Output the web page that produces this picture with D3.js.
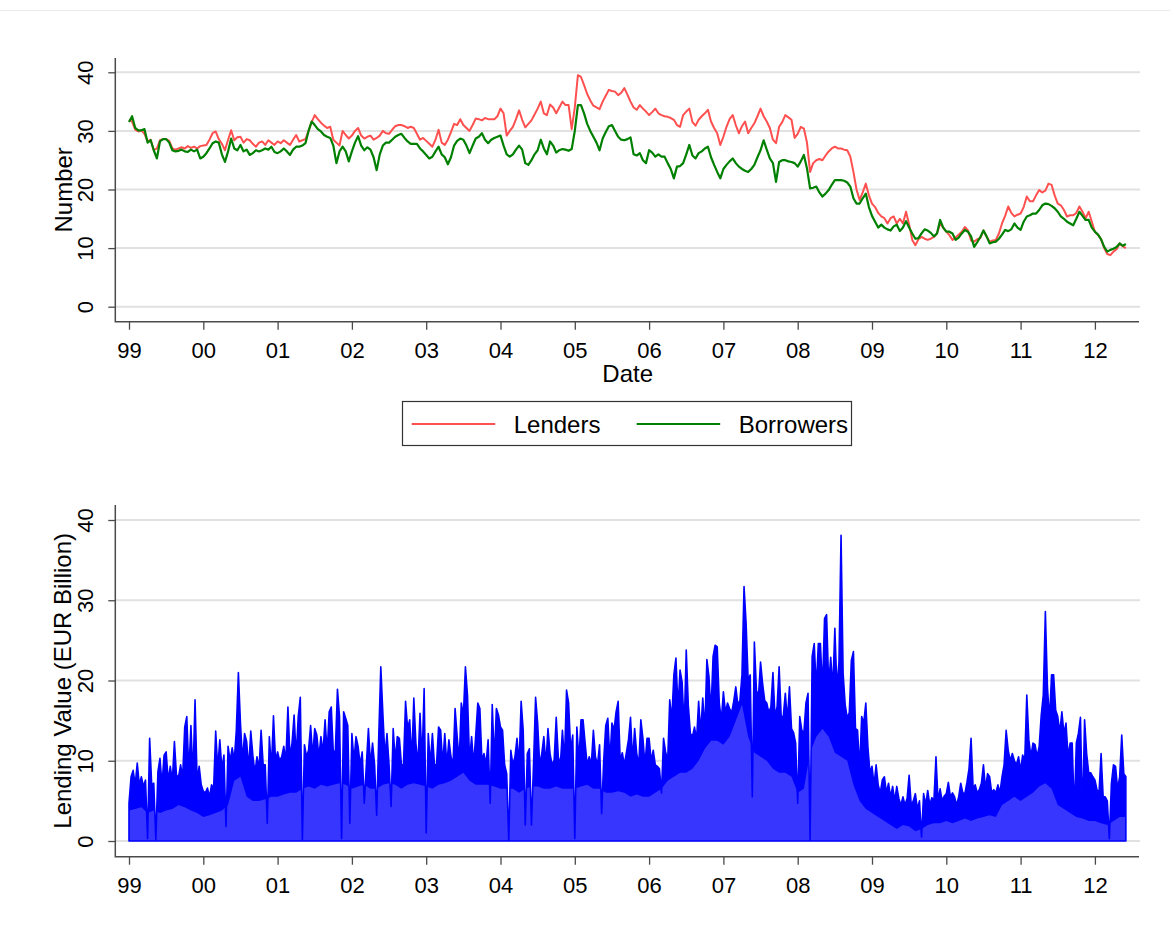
<!DOCTYPE html>
<html>
<head>
<meta charset="utf-8">
<script src="https://cdn.jsdelivr.net/npm/d3@7"></script>
<style>
  body { margin: 0; background: #fff; }
  svg { display: block; font-family: "Liberation Sans", Arial, sans-serif; }
</style>
</head>
<body>
<div id="chart"></div>
<script>
const width = 1170
const height = 941

const years = [1999, 2000, 2001, 2002, 2003, 2004, 2005, 2006, 2007, 2008, 2009, 2010, 2011, 2012]
const yTicks = [0, 10, 20, 30, 40]

// number of lenders / borrowers, two readings per month
const lenders1999 = [31.9,31.6,30.2,29.9,30.1,29.5,28.2,28.5,26.7,27.0,28.4,28.6,28.6,28.3,27.0,26.8,27.0,27.2,27.0,27.4,27.1,27.3,27.0,27.4]
const lenders2000 = [27.5,27.6,28.5,29.6,29.9,28.6,27.8,26.7,28.5,30.1,28.4,28.9,29.0,28.0,28.6,28.4,27.8,27.3,28.0,28.2,27.6,28.4,28.0,27.6]
const lenders2001 = [28.2,27.9,28.4,28.0,27.6,28.5,29.3,28.2,28.4,28.6,30.0,31.5,32.7,32.0,31.4,30.9,30.5,30.7,28.5,28.0,27.5,30.0,29.3,28.7]
const lenders2002 = [29.2,30.0,30.5,29.2,28.7,29.0,29.2,28.5,28.8,29.2,30.0,29.6,29.5,30.2,30.8,31.0,31.0,30.8,30.5,30.7,30.5,29.5,28.5,28.8]
const lenders2003 = [28.3,27.8,27.3,28.5,30.2,28.0,27.6,28.5,29.8,31.2,31.0,32.0,31.0,30.5,30.0,31.0,32.1,32.0,31.8,32.2,32.0,32.0,32.0,32.5]
const lenders2004 = [33.8,33.0,29.2,30.0,30.7,32.0,33.5,31.9,30.6,31.2,31.8,32.8,33.8,35.0,33.0,32.7,34.5,34.0,33.0,34.0,35.0,34.4,34.4,30.3]
const lenders2005 = [34.0,39.5,39.2,37.8,36.3,35.2,34.3,34.0,33.7,35.0,36.0,37.0,36.8,36.7,36.1,36.5,37.3,36.2,35.0,34.0,33.6,34.4,33.8,33.3]
const lenders2006 = [32.7,33.2,33.8,33.0,32.7,32.5,32.4,32.2,31.9,31.0,30.7,32.7,33.3,33.8,31.5,30.9,31.9,32.5,33.0,33.6,31.6,30.5,29.6,27.6]
const lenders2007 = [29.0,30.7,32.0,32.7,31.0,29.6,30.8,31.6,29.6,30.5,31.3,32.5,33.8,32.5,31.6,30.5,28.5,27.9,30.7,31.5,32.7,32.3,31.9,28.8]
const lenders2008 = [29.5,30.7,30.4,28.0,23.0,24.5,25.0,25.2,25.0,25.8,26.5,27.0,27.3,27.0,27.0,26.8,26.7,25.6,23.0,20.0,18.2,19.5,21.0,19.0]
const lenders2009 = [17.6,17.0,16.0,15.4,15.1,14.2,15.1,15.4,14.2,15.0,14.2,16.2,14.0,11.4,10.5,11.5,11.9,11.6,11.4,11.6,11.9,12.5,14.2,13.5]
const lenders2010 = [12.8,12.2,11.4,11.8,12.3,12.8,13.6,13.0,11.3,11.1,11.5,11.7,13.0,12.0,11.1,11.3,11.4,12.5,14.2,15.5,17.1,16.0,15.4,15.7]
const lenders2011 = [15.9,17.0,18.8,18.0,18.0,19.0,19.9,19.5,19.8,21.0,20.8,19.0,17.6,17.3,16.5,15.4,15.6,15.6,16.0,17.1,16.2,15.1,16.2,14.5]
const lenders2012 = [12.8,12.3,11.5,10.0,9.0,8.8,9.4,9.8,10.8,10.3,10.0]

const borrowers1999 = [31.5,32.5,30.5,30.1,30.1,30.3,28.0,28.4,26.7,25.3,28.2,28.6,28.6,28.0,26.7,26.5,26.6,26.8,26.5,26.4,26.8,26.5,26.8,25.3]
const borrowers2000 = [25.6,26.2,27.0,27.9,28.2,28.0,26.0,24.7,26.5,28.7,27.0,26.7,27.6,26.5,26.8,25.9,26.2,26.7,26.5,26.7,27.0,26.8,27.3,26.4]
const borrowers2001 = [26.2,26.5,27.0,26.5,25.9,26.8,27.3,27.3,27.5,27.9,30.0,31.6,31.0,30.3,29.9,29.3,29.0,28.8,27.5,24.5,26.5,27.3,26.5,24.8]
const borrowers2002 = [26.5,28.0,29.1,27.5,26.7,27.2,26.8,25.5,23.3,26.0,27.5,28.0,28.0,28.5,29.0,29.3,29.5,28.8,28.2,27.8,27.8,27.8,27.0,26.5]
const borrowers2003 = [25.9,25.3,25.6,26.5,27.3,26.0,25.5,24.3,25.5,27.5,28.3,28.7,28.5,27.5,26.2,27.5,28.7,29.0,29.6,28.5,27.9,28.5,28.8,29.0]
const borrowers2004 = [29.2,27.5,26.0,25.6,26.0,26.8,27.5,26.8,24.5,24.2,25.0,26.0,26.7,28.5,27.0,26.0,28.2,27.5,26.3,26.7,26.9,26.8,26.6,26.9]
const borrowers2005 = [30.0,34.4,34.4,33.0,31.2,30.0,29.0,28.0,26.7,28.7,29.8,30.8,31.0,30.0,29.0,28.5,28.4,28.6,28.9,26.0,25.8,26.2,25.0,24.5]
const borrowers2006 = [26.7,26.3,25.6,26.0,25.6,25.6,24.5,23.5,21.9,23.9,24.0,24.5,26.0,27.6,25.8,25.3,26.2,26.5,27.0,27.3,25.5,24.2,23.0,21.9]
const borrowers2007 = [23.5,24.2,24.8,25.3,24.5,23.9,23.5,23.2,23.0,23.5,24.2,25.5,26.7,28.4,26.8,25.3,24.5,21.3,24.7,25.0,25.0,24.8,24.7,24.5]
const borrowers2008 = [23.9,24.8,25.9,23.6,20.2,20.3,20.5,19.5,18.8,19.3,19.9,20.8,21.6,21.6,21.6,21.5,21.2,20.5,18.5,17.6,17.6,18.5,19.3,17.0]
const borrowers2009 = [15.5,14.5,13.5,14.0,13.5,13.2,13.0,13.7,14.0,12.9,13.5,14.6,13.5,12.5,11.6,11.7,12.5,13.2,13.0,12.6,12.0,12.5,14.8,13.5]
const borrowers2010 = [12.8,12.8,12.5,11.4,11.8,12.5,13.1,12.8,12.0,10.2,11.0,11.9,13.0,12.0,10.8,11.0,11.1,11.6,12.3,13.1,12.9,13.2,14.2,13.5]
const borrowers2011 = [13.1,14.5,15.4,15.6,15.9,15.9,16.5,17.3,17.6,17.5,17.2,16.8,16.2,15.4,15.0,14.5,14.2,13.9,15.0,16.2,15.5,14.8,14.8,13.5]
const borrowers2012 = [12.8,12.3,11.5,10.2,9.4,9.7,9.9,10.2,10.8,10.4,10.7]

// lending value (EUR billion), three readings per month
const lend1999 = [4.7,8.0,8.8,7.0,9.7,7.0,8.0,6.8,7.6,0.3,12.8,7.0,7.2,0.2,8.6,10.3,7.0,10.7,11.1,7.5,9.3,7.5,12.4,8.2,8.0,9.5,8.0,14.2,15.5,8.5,14.4,8.0,17.6,7.6,9.3,7.0]
const lend2000 = [6.2,6.0,6.6,5.5,7.0,6.5,13.7,9.0,12.6,9.0,10.7,1.8,11.8,10.0,11.6,10.0,13.8,21.0,14.7,10.0,13.4,12.4,9.0,13.7,10.7,8.5,10.5,9.0,13.8,9.5,9.5,2.2,13.0,9.0,15.6,10.0]
const lend2001 = [11.1,10.0,10.5,11.8,10.0,16.7,10.5,12.2,15.7,10.5,15.5,17.9,0.2,12.0,10.5,11.3,14.4,10.5,14.0,13.2,10.5,13.0,11.0,15.1,11.0,16.1,16.7,11.0,11.3,18.9,15.5,0.3,16.1,15.3,14.4,2.2]
const lend2002 = [13.4,10.0,13.0,11.8,9.5,11.1,4.7,9.5,14.0,9.5,12.2,9.5,3.2,13.0,21.7,15.9,10.5,13.4,9.5,4.3,14.0,10.0,13.0,12.8,9.5,9.5,17.4,14.0,15.1,10.0,17.8,12.2,9.5,15.9,10.0,19.0]
const lend2003 = [1.0,13.4,9.5,13.4,9.5,9.5,14.2,13.8,9.5,13.4,9.5,12.6,10.5,9.5,16.5,13.0,10.0,17.2,15.5,21.7,18.2,10.0,13.0,9.5,13.2,17.2,16.5,10.0,10.9,9.5,12.6,4.7,17.0,10.0,16.5,15.7]
const lend2004 = [14.2,13.8,9.5,8.4,0.1,11.3,9.5,10.5,12.8,9.5,17.4,13.8,2.0,10.9,11.5,2.0,9.5,17.9,14.7,9.5,10.9,13.0,9.5,14.0,10.9,9.5,10.1,15.4,10.5,9.5,13.8,10.0,18.8,17.2,11.3,13.2]
const lend2005 = [0.3,14.2,10.0,15.1,15.1,12.2,9.5,10.5,9.5,13.8,10.5,9.5,12.0,3.4,10.0,14.4,15.3,10.0,14.7,13.8,16.1,17.4,10.0,11.0,9.5,11.0,12.6,15.4,10.0,14.0,10.9,9.5,15.1,12.8,9.5,12.8]
const lend2006 = [12.8,10.0,11.3,9.5,9.3,9.0,6.0,12.8,11.1,10.0,17.6,15.1,20.7,22.8,16.5,21.3,19.8,14.0,23.8,16.9,13.4,13.0,14.2,12.6,17.4,13.5,17.8,13.8,22.6,20.5,16.0,23.0,24.4,24.2,17.2,15.0]
const lend2007 = [18.6,16.0,17.2,16.5,16.0,17.4,19.2,17.0,17.5,20.7,31.7,27.1,20.0,20.7,5.5,24.8,18.8,18.0,22.3,19.6,17.5,17.2,16.0,16.7,21.0,15.5,16.7,21.7,15.5,15.5,18.4,15.0,19.2,14.0,13.5,12.2]
const lend2008 = [4.7,15.5,13.8,13.5,17.2,18.4,0.1,23.0,24.6,19.0,24.6,24.6,18.8,27.7,28.2,19.5,22.9,19.0,26.5,19.0,22.3,38.1,20.9,17.0,15.3,16.0,22.5,23.6,14.0,13.8,9.0,15.5,14.7,17.2,11.8,8.5]
const lend2009 = [9.3,7.0,9.5,7.0,6.0,7.6,8.0,6.0,7.2,5.5,6.8,5.0,6.8,5.3,4.5,5.5,4.5,5.3,8.2,4.5,5.0,5.9,4.0,5.0,0.5,5.9,4.5,6.3,4.5,5.4,5.0,10.5,5.0,6.5,5.0,5.6]
const lend2010 = [5.9,7.3,5.5,6.0,5.5,4.5,5.5,7.2,6.0,5.9,7.3,9.0,12.8,6.5,7.0,6.0,6.4,7.2,9.5,6.5,8.4,8.0,6.0,6.4,6.0,7.0,6.0,8.0,9.5,13.8,11.3,10.0,10.9,10.0,9.5,10.5]
const lend2011 = [8.8,10.7,10.0,18.2,12.6,10.5,12.2,12.0,10.5,11.8,15.7,18.2,28.6,19.2,15.0,20.7,20.7,16.3,15.5,13.5,16.1,13.4,14.7,10.5,12.2,12.2,3.5,12.2,13.4,15.4,3.0,15.1,10.9,8.5,8.5,8.0]
const lend2012 = [7.6,6.4,6.0,10.9,5.5,5.5,5.0,0.3,7.2,9.5,9.3,6.5,8.0,13.2,8.4,8.0]

// monthly low of the lending value (top of the pale band)
const lendLow1999 = [3.8,4.0,4.2,3.5,3.8,3.5,3.8,4.0,4.5,4.2,3.8,3.5]
const lendLow2000 = [3.0,3.2,3.5,3.8,4.5,7.5,8.0,5.5,5.0,5.0,5.2,5.5]
const lendLow2001 = [5.5,5.8,6.0,6.0,6.5,6.8,6.5,7.0,6.8,7.0,7.2,7.0]
const lendLow2002 = [6.5,6.8,7.0,6.5,6.5,7.0,7.2,7.0,6.5,7.0,7.2,7.0]
const lendLow2003 = [6.8,6.5,7.0,7.2,7.5,8.0,8.5,7.5,7.0,7.0,7.0,6.8]
const lendLow2004 = [6.5,6.5,6.5,6.0,6.5,6.8,6.8,6.5,6.5,6.8,6.5,6.5]
const lendLow2005 = [6.5,6.8,7.0,6.5,6.5,6.0,6.0,6.2,6.0,5.5,5.8,5.5]
const lendLow2006 = [5.5,6.0,6.5,7.5,8.0,8.5,8.5,9.0,10.0,11.5,12.5,12.5]
const lendLow2007 = [12.0,13.0,15.0,17.0,13.0,11.0,10.5,10.0,9.0,8.5,8.5,8.0]
const lendLow2008 = [6.0,6.5,11.0,13.0,14.0,13.0,11.0,10.5,10.0,7.0,5.0,4.0]
const lendLow2009 = [3.5,3.0,2.5,2.0,1.5,2.0,1.8,1.2,1.5,2.0,2.2,2.2]
const lendLow2010 = [2.5,2.2,2.5,2.8,2.5,2.8,3.0,3.2,3.0,4.5,5.0,5.5]
const lendLow2011 = [5.0,5.5,6.0,6.8,7.2,6.5,4.5,4.0,3.5,3.0,2.8,2.5]
const lendLow2012 = [2.5,2.2,2.0,2.5,3.0,3.0]

const lenders = series([lenders1999, lenders2000, lenders2001, lenders2002, lenders2003, lenders2004, lenders2005,
  lenders2006, lenders2007, lenders2008, lenders2009, lenders2010, lenders2011, lenders2012], 24)
const borrowers = series([borrowers1999, borrowers2000, borrowers2001, borrowers2002, borrowers2003, borrowers2004, borrowers2005,
  borrowers2006, borrowers2007, borrowers2008, borrowers2009, borrowers2010, borrowers2011, borrowers2012], 24)
const lending = series([lend1999, lend2000, lend2001, lend2002, lend2003, lend2004, lend2005,
  lend2006, lend2007, lend2008, lend2009, lend2010, lend2011, lend2012], 36)
const lendingLow = series([lendLow1999, lendLow2000, lendLow2001, lendLow2002, lendLow2003, lendLow2004, lendLow2005,
  lendLow2006, lendLow2007, lendLow2008, lendLow2009, lendLow2010, lendLow2011, lendLow2012], 12)

const red = "#ff5050"
const green = "#008000"
const blue = "#0000ff"
const paleBlue = "#3636ff"
const gridColor = "#e1e1e1"
const axisColor = "#4a4a4a"

const svg = d3.select("#chart")
  .append("svg")
  .attr("width", width)
  .attr("height", height)

// faint rule along the top of the figure
svg.append("line")
  .attr("x1", 0).attr("x2", width)
  .attr("y1", 10.5).attr("y2", 10.5)
  .attr("stroke", "#ececec")

const x = d3.scaleLinear().domain([1999, 2012]).range([129, 1094.9])

const topFrame = {left: 115.3, right: 1140, top: 58, axisY: 321.7}
const bottomFrame = {left: 115.3, right: 1140, top: 505, axisY: 856.7}

const yTop = d3.scaleLinear().domain([0, 40]).range([306.7, 72.3])
const yBottom = d3.scaleLinear().domain([0, 40]).range([841, 520])

drawFrame(topFrame, yTop, "Number", 72)
drawFrame(bottomFrame, yBottom, "Lending Value (EUR Billion)", 70.5)

// top panel lines
const line = d3.line()
  .x(d => x(d.t))
  .y(d => yTop(d.v))

svg.append("path")
  .datum(lenders)
  .attr("fill", "none")
  .attr("stroke", red)
  .attr("stroke-width", 2)
  .attr("stroke-linejoin", "round")
  .attr("d", line)

svg.append("path")
  .datum(borrowers)
  .attr("fill", "none")
  .attr("stroke", green)
  .attr("stroke-width", 2.2)
  .attr("stroke-linejoin", "round")
  .attr("d", line)

svg.append("text")
  .attr("x", (topFrame.left + topFrame.right) / 2)
  .attr("y", topFrame.axisY + 60.5)
  .attr("text-anchor", "middle")
  .style("font-size", "24px")
  .text("Date")

// legend
const legend = svg.append("g")
legend.append("rect")
  .attr("x", 402.5).attr("y", 401.5)
  .attr("width", 449).attr("height", 44)
  .attr("fill", "#fff")
  .attr("stroke", "#333")
  .attr("stroke-width", 1.2)

const legendItems = [
  {name: "Lenders", color: red, x: 411.7},
  {name: "Borrowers", color: green, x: 636.7}
]
const item = legend.selectAll("g.item")
  .data(legendItems)
  .join("g")
    .attr("class", "item")
    .attr("transform", d => `translate(${d.x},424)`)
item.append("line")
  .attr("x1", 0).attr("x2", 83.5)
  .attr("stroke", d => d.color)
  .attr("stroke-width", 2.2)
item.append("text")
  .attr("x", 102)
  .attr("y", 8.5)
  .style("font-size", "24px")
  .text(d => d.name)

// bottom panel: dark mass of daily values, pale band below the monthly low
const area = d3.area()
  .x(d => x(d.t))
  .y0(yBottom(0))
  .y1(d => yBottom(d.v))

svg.append("clipPath")
  .attr("id", "lend-clip")
  .append("path")
    .datum(lending)
    .attr("d", area)

svg.append("path")
  .datum(lending)
  .attr("fill", blue)
  .attr("d", area)

svg.append("path")
  .datum(lendingLow)
  .attr("clip-path", "url(#lend-clip)")
  .attr("fill", paleBlue)
  .attr("d", area)

svg.append("path")
  .datum(lending)
  .attr("fill", "none")
  .attr("stroke", blue)
  .attr("stroke-width", 1.6)
  .attr("stroke-linejoin", "round")
  .attr("d", area)


function series(chunks, perYear){
    return chunks.flatMap((vals, k) => vals.map((v, i) => ({t: years[k] + i / perYear, v})))
}

function drawFrame(frame, y, title, titleX){
    // gridlines
    svg.append("g")
      .selectAll("line")
      .data(yTicks)
      .join("line")
        .attr("x1", frame.left)
        .attr("x2", frame.right)
        .attr("y1", d => y(d))
        .attr("y2", d => y(d))
        .attr("stroke", gridColor)
        .attr("stroke-width", 2)

    const gy = svg.append("g")
      .attr("transform", `translate(${frame.left},0)`)
      .call(d3.axisLeft(y).tickValues(yTicks).tickSize(7).tickSizeOuter(0).tickFormat(d3.format("d")))
    gy.select(".domain").remove()
    gy.selectAll(".tick line").attr("stroke", axisColor).attr("stroke-width", 1.3)
    gy.selectAll(".tick text")
      .attr("x", null)
      .attr("dy", null)
      .attr("fill", "#000")
      .attr("text-anchor", "middle")
      .attr("transform", "translate(-22,0) rotate(-90)")
      .style("font-size", "22px")

    const gx = svg.append("g")
      .attr("transform", `translate(0,${frame.axisY})`)
      .call(d3.axisBottom(x).tickValues(years).tickSize(8).tickSizeOuter(0).tickFormat(d => String(d).slice(2)))
    gx.select(".domain").remove()
    gx.selectAll(".tick line").attr("stroke", axisColor).attr("stroke-width", 1.3)
    gx.selectAll(".tick text")
      .attr("y", 36.5)
      .attr("dy", null)
      .attr("fill", "#000")
      .style("font-size", "22px")

    // axis lines
    svg.append("path")
      .attr("d", `M${frame.left},${frame.top}V${frame.axisY}H${frame.right - 1}`)
      .attr("fill", "none")
      .attr("stroke", axisColor)
      .attr("stroke-width", 1.5)

    svg.append("text")
      .attr("transform", `translate(${titleX},${(frame.top + frame.axisY) / 2}) rotate(-90)`)
      .attr("text-anchor", "middle")
      .style("font-size", "24px")
      .text(title)
}
</script>
</body>
</html>
